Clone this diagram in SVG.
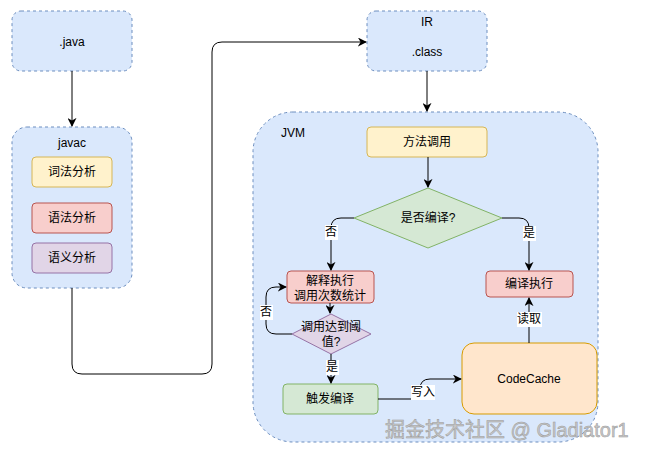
<svg xmlns="http://www.w3.org/2000/svg" width="648" height="454" viewBox="0 0 648 454">
<defs>
<marker id="arr" viewBox="0 0 10 10" refX="9" refY="5" markerWidth="9" markerHeight="9" markerUnits="userSpaceOnUse" orient="auto">
<path d="M0,0 L10,5 L0,10 L3,5 Z" fill="#000"/>
</marker>
</defs>
<style>
text{font-family:"Liberation Sans","Noto Sans CJK SC",sans-serif;font-size:12px;fill:#000;text-anchor:middle;dominant-baseline:central}
.grp{fill:#dae8fc;stroke:#6c8ebf;stroke-dasharray:3 3;stroke-width:1}
.yel{fill:#fff2cc;stroke:#d6b656}
.red{fill:#f8cecc;stroke:#b85450}
.pur{fill:#e1d5e7;stroke:#9673a6}
.grn{fill:#d5e8d4;stroke:#82b366}
.org{fill:#ffe6cc;stroke:#d79b00}
.edge{fill:none;stroke:#000;stroke-width:1;marker-end:url(#arr)}
.lbl{fill:#fff}
.wm{font-size:20px;fill:#c8c8c8;stroke:#9a9a9a;stroke-width:0.5;text-anchor:start}
</style>
<rect width="648" height="454" fill="#fff"/>
<g id="jvm">
<rect class="grp" x="253" y="112" width="345" height="330" rx="40"/>
<text x="293" y="133">JVM</text>
</g>
<g id="java">
<rect class="grp" x="12" y="11" width="120" height="60" rx="9"/>
<text x="72" y="42">.java</text>
</g>
<g id="javac">
<rect class="grp" x="12" y="127" width="120" height="161" rx="15"/>
<text x="72" y="143">javac</text>
</g>
<g id="lex">
<rect class="yel" x="32" y="157" width="80" height="30" rx="4"/>
<text x="72" y="172">词法分析</text>
</g>
<g id="syntax">
<rect class="red" x="32" y="203" width="80" height="30" rx="4"/>
<text x="72" y="218">语法分析</text>
</g>
<g id="semantic">
<rect class="pur" x="32" y="243" width="80" height="30" rx="4"/>
<text x="72" y="258">语义分析</text>
</g>
<g id="ir">
<rect class="grp" x="367" y="11" width="120" height="60" rx="9"/>
<text x="427" y="22">IR</text>
<text x="427" y="52">.class</text>
</g>
<g id="invoke">
<rect class="yel" x="367" y="127" width="120" height="30" rx="4"/>
<text x="427" y="142">方法调用</text>
</g>
<g id="compiled">
<path class="grn" d="M428,188 L502,218 L428,248 L354,218 Z"/>
<text x="428" y="218">是否编译?</text>
</g>
<g id="interp">
<rect class="red" x="287" y="271" width="87" height="32" rx="4"/>
<text x="330" y="281">解释执行</text>
<text x="330" y="296">调用次数统计</text>
</g>
<g id="compexec">
<rect class="red" x="486" y="271" width="87" height="26" rx="4"/>
<text x="529" y="284">编译执行</text>
</g>
<g id="threshold">
<path class="pur" d="M331,314 L371,334 L331,354 L292,334 Z"/>
<text x="331" y="327">调用达到阈</text>
<text x="331" y="342">值?</text>
</g>
<g id="trigger">
<rect class="grn" x="283" y="384" width="95" height="30" rx="4"/>
<text x="330" y="399">触发编译</text>
</g>
<g id="codecache">
<rect class="org" x="462" y="343" width="135" height="71" rx="12"/>
<text x="529" y="379">CodeCache</text>
</g>
<g id="connectors">
<path class="edge" d="M72,71 L72,126"/>
<path class="edge" d="M72,288 L72,364 Q72,374 82,374 L202,374 Q212,374 212,364 L212,52 Q212,42 222,42 L366,42"/>
<path class="edge" d="M427,71 L427,111"/>
<path class="edge" d="M428,157 L428,187"/>
<path class="edge" d="M354,218 L341,218 Q331,218 331,228 L331,270"/>
<path class="edge" d="M502,218 L519,218 Q529,218 529,228 L529,270"/>
<path class="edge" d="M330,303 L330,313"/>
<path class="edge" d="M292,334 L276,334 Q266,334 266,324 L266,297 Q266,287 276,287 L286,287"/>
<path class="edge" d="M331,354 L331,383"/>
<path class="edge" d="M378,399 L420,399 L420,389 Q420,379 430,379 L461,379"/>
<path class="edge" d="M529,343 L529,298"/>
<rect class="lbl" x="325" y="225" width="13" height="15"/>
<text x="331" y="232">否</text>
<rect class="lbl" x="523" y="226" width="13" height="15"/>
<text x="529" y="233">是</text>
<rect class="lbl" x="260" y="305" width="13" height="15"/>
<text x="266" y="312">否</text>
<rect class="lbl" x="326" y="360" width="13" height="15"/>
<text x="332" y="367">是</text>
<rect class="lbl" x="411" y="385" width="24" height="15"/>
<text x="423" y="392">写入</text>
<rect class="lbl" x="517" y="312" width="25" height="15"/>
<text x="529" y="319">读取</text>
</g>
<text class="wm" x="385" y="430">掘金技术社区 @ Gladiator1</text>
</svg>
